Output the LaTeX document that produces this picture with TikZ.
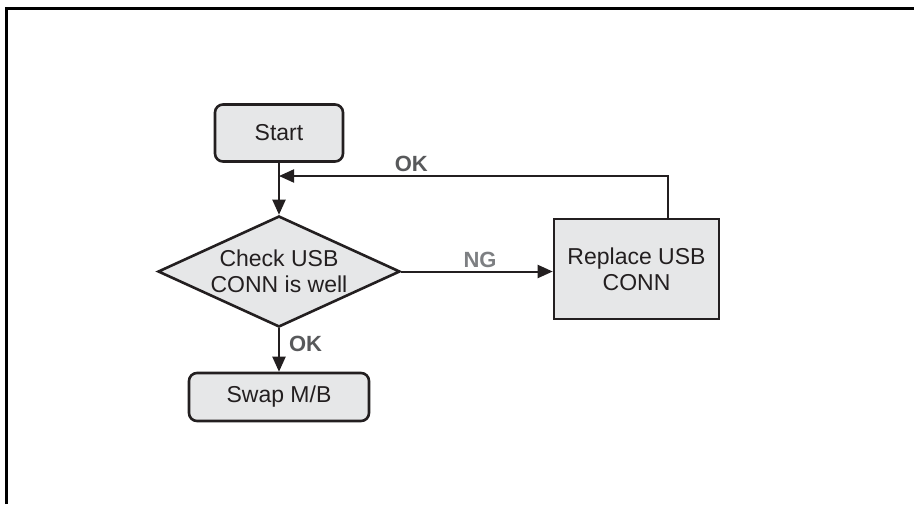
\documentclass[tikz,border=0pt]{standalone}
\usepackage{fontspec}
\setmainfont{Liberation Sans}
\usepackage{xcolor}
\usepackage{tikz}
\usetikzlibrary{positioning,shapes.geometric,arrows.meta}

\definecolor{boxfill}{HTML}{E6E7E8}
\definecolor{boxline}{HTML}{231F20}
\definecolor{okgray}{HTML}{58595B}
\definecolor{nggray}{HTML}{7D7F82}

\begin{document}
\begin{tikzpicture}[x=1pt,y=-1pt,
	stepbox/.style={draw=boxline,fill=boxfill,text=boxline,line width=2.6pt,inner sep=0pt,align=center,font=\fontsize{23}{26}\selectfont},
	roundbox/.style={stepbox,rounded corners=8pt},
	decision/.style={stepbox,diamond,aspect=2.16},
	flow/.style={draw=boxline,line width=2pt,-{Triangle[length=15pt,width=13pt]}},
	tag/.style={font=\fontsize{22}{24}\selectfont\bfseries,inner sep=0pt}]
			
			\useasboundingbox (0,0) rectangle (914,504);
			\draw[line width=3.2pt] (6.5,504) -- (6.5,8.5) -- (914,8.5);
			
			\node[roundbox,minimum width=128pt,minimum height=57pt] (start) at (279,133) {Start};
			\node[decision,minimum width=242pt,minimum height=111pt] (check) at (279,271.5) {Check USB\\CONN is well};
			\node[stepbox,minimum width=165pt,minimum height=100pt] (replace) at (636.5,269) {Replace USB\\CONN};
			\node[roundbox,minimum width=180pt,minimum height=48pt] (swap) at (279,397) {Swap M/B};
			\coordinate (fbturn) at (668,176);
			
			\draw[flow] (start.south) -- (check.north);
			\draw[flow] (check.east) -- node[tag,text=nggray,anchor=south,yshift=3pt,pos=0.52]{NG} (check.east -| replace.west);
			\draw[flow] (check.south) -- node[tag,text=okgray,anchor=west,xshift=9pt,pos=0.35]{OK} (swap.north);
			\draw[flow] (replace.north -| fbturn) -- (fbturn) -- node[tag,text=okgray,anchor=south,yshift=3pt,pos=0.66]{OK} (start.south |- fbturn);
			
		\end{tikzpicture}
\end{document}
